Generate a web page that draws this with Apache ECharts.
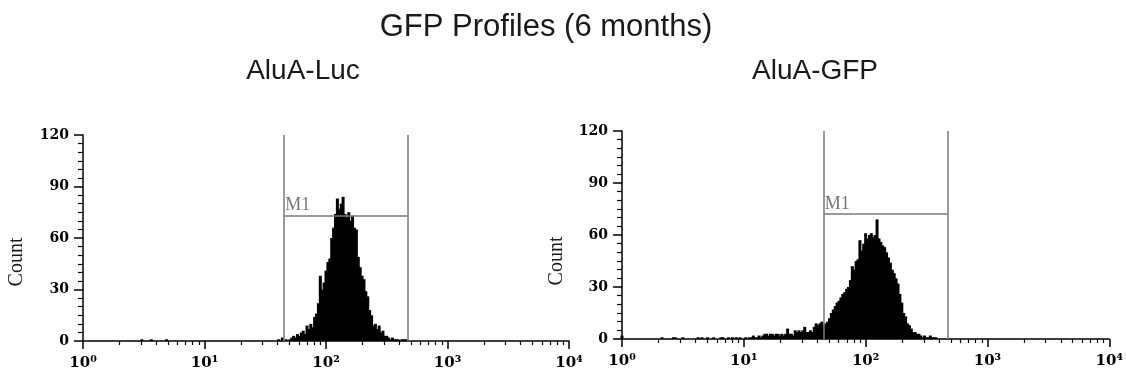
<!DOCTYPE html>
<html>
<head>
<meta charset="utf-8">
<script src="https://cdn.jsdelivr.net/npm/echarts@6/dist/echarts.min.js"></script>
<style>
  html, body { margin: 0; padding: 0; background: #fff; }
  #main { width: 1126px; height: 383px; }
</style>
</head>
<body>
<div id="main"></div>
<script>
// 256 channels over 4 log decades (64 channels per decade)
const decadeChannels = [0, 64, 128, 192, 256];
const decadeLabels = ['10⁰', '10¹', '10²', '10³', '10⁴'];
const countTicks = [0, 30, 60, 90, 120];

// AluA-Luc histogram
const lucSparse = [[31, 1], [36, 1], [44, 1]];
const lucFirst = 103;
const lucCounts = [
  1, 0, 2, 0, 1, 0, 1, 2, 3, 2,
  4, 3, 5, 6, 4, 9, 7, 10, 8, 14,
  16, 22, 38, 30, 34, 41, 46, 48, 60, 66,
  74, 83, 77, 80, 84, 74, 72, 75, 70, 73,
  66, 65, 49, 43, 38, 36, 29, 26, 18, 15,
  9, 10, 7, 9, 5, 6, 3, 3, 2, 1,
  2, 1, 1, 1, 0, 1, 1, 1
];

// AluA-GFP histogram
const gfpSparse = [[0, 2], [21, 1], [27, 1], [28, 1], [32, 1], [40, 1], [42, 1], [45, 1],
  [48, 1], [52, 1], [53, 1], [56, 1], [58, 1], [60, 1], [62, 1], [65, 1], [67, 1]];
const gfpFirst = 68;
const gfpCounts = [
  1, 2, 1, 1, 2, 1, 2, 3, 3, 2,
  3, 3, 2, 3, 3, 2, 3, 2, 3, 6,
  3, 3, 2, 5, 4, 5, 4, 5, 7, 4,
  4, 5, 4, 7, 9, 8, 9, 10, 8, 9,
  10, 12, 15, 17, 19, 21, 22, 24, 26, 27,
  29, 30, 34, 42, 40, 45, 46, 57, 51, 55,
  61, 58, 60, 61, 59, 60, 69, 58, 56, 54,
  53, 50, 47, 44, 40, 38, 35, 32, 26, 21,
  15, 13, 9, 8, 6, 4, 4, 3, 3, 2,
  1, 2, 1, 1, 2, 1, 1, 1
];

// M1 gate: channels and level
const m1Gate = [106, 171];
const m1Level = [73, 72];

function histData(sparse, first, counts) {
  return sparse.concat(counts.map((c, i) => [first + i, c]));
}

const minorChannels = [];
for (let d = 0; d < 4; d++) {
  for (let k = 2; k <= 9; k++) minorChannels.push(64 * (d + Math.log10(k)));
}

const axisColor = '#000';
const labelFont = { fontFamily: 'DejaVu Serif', fontWeight: 'bold', fontSize: 14, color: '#000' };

function xAxes(gridIndex) {
  return [
    {
      type: 'value', gridIndex, min: 0, max: 256, position: 'bottom',
      axisLine: { lineStyle: { color: axisColor, width: 1.5 } },
      axisTick: { customValues: decadeChannels, length: 8, lineStyle: { color: axisColor, width: 1.5 } },
      axisLabel: Object.assign({
        customValues: decadeChannels, margin: 15,
        formatter: v => decadeLabels[Math.round(v / 64)]
      }, labelFont, { fontSize: 15 }),
      splitLine: { show: false }
    },
    {
      type: 'value', gridIndex, min: 0, max: 256, position: 'bottom',
      axisLine: { show: false },
      axisTick: { customValues: minorChannels, length: 4, lineStyle: { color: axisColor, width: 1.2 } },
      axisLabel: { show: false },
      splitLine: { show: false }
    }
  ];
}

function yAxis(gridIndex) {
  return {
    type: 'value', gridIndex, min: 0, max: 120, interval: 30,
    axisLine: { show: true, lineStyle: { color: axisColor, width: 1.5 } },
    axisTick: { show: true, length: 9, lineStyle: { color: axisColor, width: 1.5 } },
    minorTick: { show: true, splitNumber: 6, length: 5, lineStyle: { color: axisColor, width: 1.2 } },
    axisLabel: Object.assign({ margin: 14, customValues: countTicks }, labelFont),
    splitLine: { show: false }
  };
}

function histSeries(xi, yi, data, level) {
  return {
    type: 'bar', xAxisIndex: xi, yAxisIndex: yi, data,
    barWidth: 3, itemStyle: { color: '#000' }, silent: true,
    markLine: {
      symbol: 'none', silent: true, animation: false,
      lineStyle: { color: '#7a7a7a', width: 1.5, type: 'solid' },
      label: { show: false },
      data: [
        [{ coord: [m1Gate[0], 0] }, { coord: [m1Gate[0], 120] }],
        [{ coord: [m1Gate[1], 0] }, { coord: [m1Gate[1], 120] }],
        [{
          coord: [m1Gate[0], level],
          label: {
            show: true, formatter: 'M1', position: 'insideStartTop', distance: [1, 1],
            fontFamily: 'Liberation Serif', fontSize: 18, color: '#777'
          }
        }, { coord: [m1Gate[1], level] }]
      ]
    }
  };
}

function text(x, y, str, size, family, rotation) {
  return {
    type: 'text', x, y, rotation: rotation || 0, silent: true,
    style: { text: str, font: size + 'px ' + family, fill: '#1a1a1a', align: 'center', verticalAlign: 'middle' }
  };
}

const chart = echarts.init(document.getElementById('main'));
chart.setOption({
  animation: false,
  grid: [
    { left: 83, top: 135, width: 486, height: 206 },
    { left: 622, top: 131, width: 488, height: 208 }
  ],
  xAxis: xAxes(0).concat(xAxes(1)),
  yAxis: [yAxis(0), yAxis(1)],
  series: [
    histSeries(0, 0, histData(lucSparse, lucFirst, lucCounts), m1Level[0]),
    histSeries(2, 1, histData(gfpSparse, gfpFirst, gfpCounts), m1Level[1])
  ],
  graphic: [
    text(546, 27, 'GFP Profiles (6 months)', 31, '"Liberation Sans", Arial'),
    text(303, 71, 'AluA-Luc', 28, '"Liberation Sans", Arial'),
    text(815, 71, 'AluA-GFP', 28, '"Liberation Sans", Arial'),
    text(17, 262, 'Count', 20, '"Liberation Serif", serif', Math.PI / 2),
    text(557, 261, 'Count', 20, '"Liberation Serif", serif', Math.PI / 2)
  ]
});
</script>
</body>
</html>
